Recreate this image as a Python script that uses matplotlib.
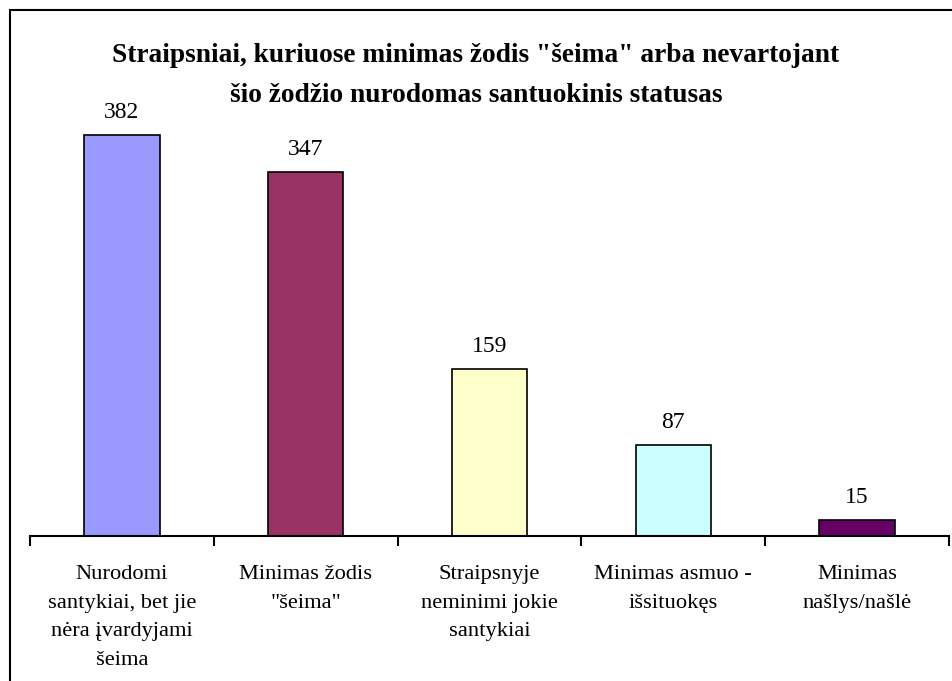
import matplotlib
matplotlib.use("Agg")
import matplotlib.pyplot as plt
from matplotlib.patches import Rectangle

plt.rcParams['font.family'] = ['Liberation Serif', 'DejaVu Serif']

categories = ["Nurodomi\nsantykiai, bet jie\nnėra įvardyjami\nšeima",
              "Minimas žodis\n\"šeima\"",
              "Straipsnyje\nneminimi jokie\nsantykiai",
              "Minimas asmuo -\nišsituokęs",
              "Minimas\nnašlys/našlė"]
values = [382, 347, 159, 87, 15]
colors = ["#9999FF", "#993366", "#FFFFCC", "#CCFFFF", "#660066"]
title_lines = ["Straipsniai, kuriuose minimas žodis \"šeima\" arba nevartojant",
               "šio žodžio nurodomas santuokinis statusas"]

W, H = 952, 681
fig = plt.figure(figsize=(W/100, H/100), dpi=100)
ax = fig.add_axes([30/W, 1-536/H, (949-30)/W, (536-63.6)/H])

x = list(range(len(values)))
bars = ax.bar(x, values, width=0.41, color=colors, edgecolor="black", linewidth=1.2, zorder=2)
for xi, v in zip(x, values):
    ax.annotate(str(v), (xi, v), xytext=(0, 8.5), textcoords="offset points",
                ha="center", va="bottom", fontsize=17)

ax.set_xlim(-0.5, len(values)-0.5)
ax.set_ylim(0, 450)
for s in ["left", "top", "right"]:
    ax.spines[s].set_visible(False)
ax.spines["bottom"].set_linewidth(1.5)
ax.set_yticks([])
ax.set_xticks(x)
ax.set_xticklabels(categories, fontsize=16.2, linespacing=1.68)
ax.tick_params(axis="x", which="major", length=0, pad=21)
ax.set_xticks([i - 0.5 for i in range(len(values)+1)], minor=True)
ax.tick_params(axis="x", which="minor", length=7, width=1.5, direction="out")

for yy, line in zip([55, 95], title_lines):
    fig.text(476/W, 1-yy/H, line, ha="center", va="center", fontsize=19.7,
             fontweight="bold")

fig.patches.append(Rectangle((10/W, -0.05), 1.1, 1-10/H+0.05, transform=fig.transFigure,
                             fill=False, edgecolor="black", linewidth=1.5))

fig.savefig("out.png", dpi=100)
